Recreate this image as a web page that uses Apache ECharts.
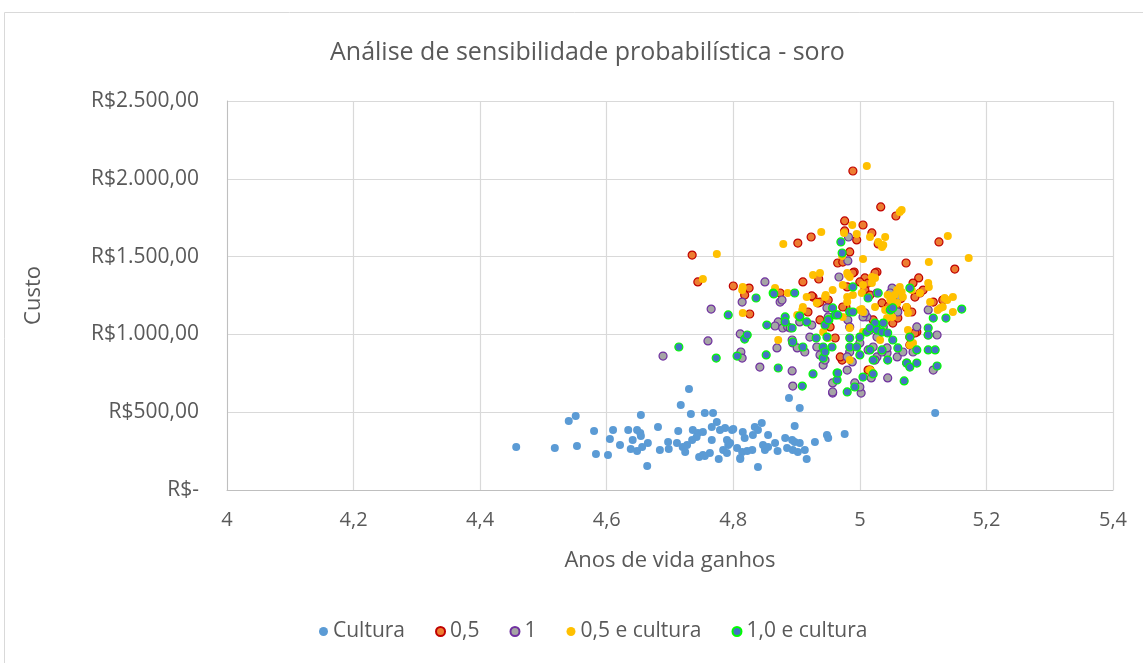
<!DOCTYPE html>
<html>
<head>
<meta charset="utf-8">
<script src="https://cdn.jsdelivr.net/npm/echarts@6/dist/echarts.min.js"></script>
<style>
  html, body { margin: 0; padding: 0; background: #fff; }
  #chart { width: 1143px; height: 663px; }
</style>
</head>
<body>
<div id="chart"></div>
<script>
var seriesNames = ['Cultura', '0,5', '1', '0,5 e cultura', '1,0 e cultura'];

var cultura = [
  [4.457, 276], [4.518, 270], [4.540, 443], [4.551, 476], [4.553, 283], [4.580, 379],
  [4.583, 231], [4.602, 225], [4.605, 328], [4.610, 386], [4.634, 386], [4.654, 482],
  [4.648, 386], [4.653, 366], [4.654, 347], [4.641, 321], [4.638, 264], [4.648, 251],
  [4.656, 276], [4.665, 302], [4.664, 154], [4.681, 405], [4.697, 308], [4.698, 264],
  [4.711, 302], [4.713, 379], [4.717, 546], [4.730, 649], [4.733, 488], [4.720, 276],
  [4.724, 244], [4.735, 321], [4.736, 386], [4.744, 366], [4.746, 212], [4.752, 225],
  [4.755, 495], [4.768, 495], [4.752, 373], [4.766, 405], [4.774, 437], [4.779, 386],
  [4.787, 398], [4.798, 386], [4.766, 321], [4.790, 321], [4.792, 289], [4.784, 257],
  [4.790, 238], [4.727, 289], [4.755, 219], [4.763, 238], [4.777, 199], [4.815, 373],
  [4.818, 334], [4.814, 244], [4.811, 199], [4.888, 591], [4.905, 527], [4.897, 411],
  [4.800, 392], [4.834, 405], [4.845, 431], [4.839, 386], [4.831, 353], [4.855, 353],
  [4.795, 302], [4.822, 251], [4.830, 257], [4.811, 206], [4.847, 289], [4.850, 257],
  [4.855, 276], [4.866, 302], [4.839, 148], [4.882, 334], [4.893, 321], [4.897, 308],
  [4.905, 302], [4.885, 270], [4.894, 257], [4.902, 244], [4.913, 257], [4.916, 199],
  [4.929, 308], [4.948, 353], [4.950, 334], [4.976, 360], [5.119, 495], [4.621, 289],
  [4.684, 257], [4.742, 340], [4.806, 270], [4.870, 250]
];

var meio = [
  [4.989, 2050], [5.033, 1819], [5.057, 1761], [4.976, 1729], [5.005, 1703], [5.019, 1652],
  [4.902, 1587], [4.923, 1626], [4.976, 1665], [4.995, 1607], [5.029, 1581], [4.984, 1530],
  [4.965, 1459], [5.073, 1459], [5.125, 1594], [5.150, 1420], [5.093, 1363], [4.991, 1401],
  [5.008, 1363], [5.027, 1401], [4.935, 1356], [4.910, 1337], [4.800, 1311], [4.825, 1298],
  [4.818, 1253], [4.874, 1266], [4.926, 1240], [4.934, 1202], [4.826, 1131], [4.978, 1176],
  [5.008, 1285], [5.074, 1170], [5.084, 1330], [5.116, 1208], [5.095, 1266], [5.035, 1202],
  [4.937, 1093], [4.953, 1048], [4.961, 977], [5.021, 1093], [5.052, 1073], [5.090, 1015],
  [5.079, 932], [4.972, 835], [5.016, 771], [4.735, 1510], [4.744, 1337], [4.924, 1247],
  [4.937, 1208], [4.950, 1221], [4.918, 1144], [4.989, 1395], [5.013, 1330], [5.024, 1395],
  [4.973, 1465], [5.087, 1240], [5.131, 1221], [5.082, 1144], [5.059, 1157], [5.060, 1105],
  [5.016, 1253], [4.973, 1176], [5.079, 983], [5.087, 1009], [5.013, 771], [4.969, 855],
  [5.000, 1337], [4.980, 1305], [5.100, 1285], [5.045, 1180], [5.065, 1230]
];

var um = [
  [4.689, 861], [4.760, 958], [4.765, 1163], [4.850, 1337], [4.814, 1208], [4.811, 1003],
  [4.812, 887], [4.814, 848], [4.842, 790], [4.874, 1208], [4.877, 1221], [4.871, 1080],
  [4.866, 1054], [4.878, 1041], [4.886, 1048], [4.869, 913], [4.893, 964], [4.894, 945],
  [4.893, 765], [4.894, 668], [4.901, 913], [4.913, 887], [4.932, 919], [4.924, 1060],
  [4.937, 868], [4.942, 803], [4.945, 835], [4.948, 1170], [4.950, 1112], [4.957, 623],
  [4.957, 688], [4.982, 1626], [4.981, 1472], [4.967, 1369], [5.044, 720], [4.957, 630],
  [5.002, 623], [4.992, 688], [4.980, 771], [5.018, 720], [5.074, 816], [5.084, 887],
  [5.090, 1048], [5.108, 996], [5.122, 996], [5.116, 771], [5.051, 1298], [5.059, 1240],
  [4.921, 983], [5.011, 1112], [5.016, 1028], [5.021, 919], [5.027, 855], [4.984, 887],
  [5.000, 945], [5.013, 900], [5.043, 880], [5.059, 855], [5.068, 887], [4.905, 1080],
  [4.890, 1041], [5.108, 1157], [5.048, 1266], [5.052, 1221], [5.060, 1144], [5.037, 1048],
  [5.027, 983], [4.981, 1093], [4.984, 1048], [5.005, 1112], [5.008, 1138], [4.980, 855],
  [4.988, 823], [5.000, 662], [5.024, 835], [5.035, 887], [5.043, 913], [5.027, 1266]
];

var meioCultura = [
  [5.011, 2082], [5.063, 1787], [5.066, 1800], [4.988, 1703], [4.995, 1645], [4.975, 1652],
  [5.016, 1626], [5.040, 1626], [5.035, 1562], [4.939, 1658], [4.879, 1581], [4.774, 1517],
  [5.139, 1632], [5.172, 1491], [5.109, 1465], [5.005, 1485], [4.972, 1504], [4.981, 1382],
  [4.926, 1382], [4.937, 1395], [4.752, 1356], [5.019, 1369], [5.024, 1363], [5.019, 1330],
  [5.063, 1305], [5.059, 1285], [5.068, 1240], [5.051, 1240], [5.044, 1253], [5.059, 1202],
  [5.074, 1176], [5.108, 1330], [5.109, 1305], [5.147, 1240], [5.138, 1221], [4.815, 1305],
  [4.814, 1285], [4.815, 1138], [4.866, 1298], [4.886, 1266], [4.916, 1240], [4.945, 1240],
  [4.957, 1285], [4.973, 1318], [4.980, 1240], [5.003, 1266], [4.909, 1157], [4.910, 1176],
  [4.932, 1202], [5.003, 1163], [5.024, 1176], [5.040, 1157], [5.051, 1112], [5.043, 1105],
  [5.076, 1138], [5.123, 1157], [5.131, 1176], [5.147, 1144], [4.871, 964], [4.942, 1015],
  [4.950, 977], [4.984, 1041], [5.005, 1015], [5.032, 964], [5.076, 1028], [5.084, 945],
  [4.984, 835], [5.016, 771], [4.901, 1125], [4.946, 1253], [5.037, 1575], [5.029, 1594],
  [5.079, 932], [5.019, 758], [4.980, 1208], [4.973, 1112], [5.000, 1157], [5.005, 1144],
  [4.989, 1253], [4.980, 1395], [4.984, 1369], [5.005, 1318], [5.066, 1273], [5.055, 1253],
  [5.048, 1221], [5.082, 1285], [5.095, 1266], [5.111, 1208], [5.127, 1170], [5.134, 1234]
];

var umCultura = [
  [4.714, 919], [4.773, 848], [4.792, 1125], [4.806, 861], [4.818, 970], [4.822, 996],
  [4.836, 1234], [4.852, 868], [4.853, 1060], [4.871, 784], [4.909, 668], [4.926, 746],
  [4.863, 1266], [4.897, 1266], [4.882, 1112], [4.882, 1080], [4.893, 1041], [4.905, 1112],
  [4.916, 1080], [4.894, 951], [4.910, 919], [4.931, 977], [4.942, 919], [4.948, 983],
  [4.956, 919], [4.942, 848], [4.945, 887], [4.957, 1170], [4.951, 1093], [4.964, 752],
  [4.964, 707], [4.970, 1594], [4.972, 1523], [4.864, 1260], [4.905, 1118], [4.945, 1060],
  [4.950, 1093], [4.961, 1125], [4.965, 1125], [4.989, 1305], [4.984, 1144], [4.989, 1144],
  [5.013, 1234], [5.029, 1266], [5.024, 1073], [5.037, 1073], [5.048, 1157], [5.052, 1170],
  [5.079, 1298], [5.108, 1041], [5.108, 996], [5.116, 1105], [5.136, 1105], [5.161, 1163],
  [4.984, 977], [5.000, 983], [5.011, 1015], [5.016, 1041], [5.027, 1028], [5.035, 1015],
  [5.044, 1009], [5.052, 964], [5.079, 983], [5.090, 900], [5.108, 900], [5.119, 900],
  [5.074, 816], [5.079, 790], [5.090, 816], [5.122, 797], [4.984, 919], [4.995, 919],
  [5.000, 868], [5.016, 900], [5.021, 835], [5.035, 900], [5.044, 835], [5.060, 913],
  [4.965, 752], [4.980, 630], [4.992, 662], [5.005, 726], [5.021, 746], [5.070, 701]
];

var xTicks = [4, 4.2, 4.4, 4.6, 4.8, 5, 5.2, 5.4];
var yTicks = [0, 500, 1000, 1500, 2000, 2500];

function fmtReal(v) {
  if (v === 0) return 'R$-';
  var s = String(Math.round(v)).replace(/\B(?=(\d{3})+(?!\d))/g, '.');
  return 'R$' + s + ',00';
}

var font = '"Open Sans", "Noto Sans", sans-serif';
var textGray = '#595959';

var chart = echarts.init(document.getElementById('chart'));

function mk(name, data, fill, border) {
  return {
    name: name,
    type: 'scatter',
    data: data,
    symbol: 'circle',
    symbolSize: 8,
    itemStyle: {
      color: fill,
      borderColor: border || fill,
      borderWidth: border ? 1.2 : 0,
      opacity: 1
    },
    emphasis: { disabled: true }
  };
}

chart.setOption({
  animation: false,
  backgroundColor: '#fff',
  textStyle: { fontFamily: font },
  graphic: [{
    type: 'rect',
    shape: { x: 4.5, y: 12.5, width: 1160, height: 700 },
    style: { fill: 'none', stroke: '#D9D9D9', lineWidth: 1 },
    silent: true
  }],
  title: {
    text: 'Análise de sensibilidade probabilística - soro',
    left: 325,
    top: 35,
    textStyle: { fontFamily: font, fontSize: 25, fontWeight: 'normal', color: textGray }
  },
  legend: {
    data: seriesNames,
    bottom: 16,
    left: 314,
    icon: 'circle',
    itemWidth: 9,
    itemHeight: 9,
    itemGap: 30,
    textStyle: { fontFamily: font, fontSize: 21, color: textGray }
  },
  grid: { left: 227, right: 30, top: 101, bottom: 173, containLabel: false },
  xAxis: {
    type: 'value',
    min: 4,
    max: 5.4,
    interval: 0.2,
    name: 'Anos de vida ganhos',
    nameLocation: 'middle',
    nameGap: 60,
    nameTextStyle: { fontFamily: font, fontSize: 22, color: textGray },
    axisLine: { show: true, lineStyle: { color: '#BFBFBF' } },
    axisTick: { show: false },
    axisLabel: {
      margin: 20,
      fontSize: 20,
      color: textGray,
      formatter: function (v) {
        var t = xTicks.find(function (k) { return Math.abs(k - v) < 1e-6; });
        return t === undefined ? '' : String(t).replace('.', ',');
      }
    },
    splitLine: { show: true, lineStyle: { color: '#D9D9D9', width: 1.2 } }
  },
  yAxis: {
    type: 'value',
    min: 0,
    max: 2500,
    interval: 500,
    name: 'Custo',
    nameLocation: 'middle',
    nameGap: 182,
    nameTextStyle: { fontFamily: font, fontSize: 22, color: textGray },
    axisLine: { show: true, lineStyle: { color: '#BFBFBF' } },
    axisTick: { show: false },
    axisLabel: {
      margin: 28,
      fontSize: 21,
      color: textGray,
      formatter: function (v) {
        return yTicks.indexOf(v) >= 0 ? fmtReal(v) : '';
      }
    },
    splitLine: { show: true, lineStyle: { color: '#D9D9D9', width: 1.2 } }
  },
  series: [
    mk(seriesNames[0], cultura, '#5B9BD5'),
    mk(seriesNames[1], meio, '#ED7D31', '#C00000'),
    mk(seriesNames[2], um, '#A5A5A5', '#7030A0'),
    mk(seriesNames[3], meioCultura, '#FFC000'),
    mk(seriesNames[4], umCultura, '#4472C4', '#00FF00')
  ]
});
</script>
</body>
</html>
